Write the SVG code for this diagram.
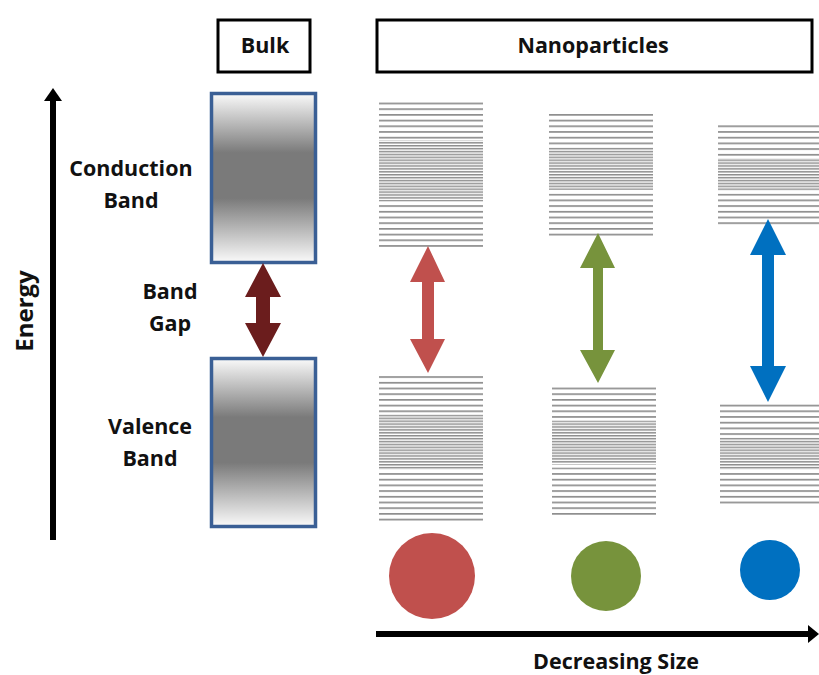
<svg xmlns="http://www.w3.org/2000/svg" width="819" height="675" viewBox="0 0 819 675">
<style>
.t{font-family:"Open Sans","Liberation Sans",sans-serif;font-weight:bold;font-size:21.5px;fill:#111;text-anchor:middle}
.box{fill:#fff;stroke:#000;stroke-width:3}
.band{stroke:#3a5f95;stroke-width:3.5;fill:url(#g)}
</style>
<defs>
<linearGradient id="g" x1="0" y1="0" x2="0" y2="1">
<stop offset="0" stop-color="#fafafa"/>
<stop offset="0.35" stop-color="#7a7a7a"/>
<stop offset="0.62" stop-color="#7a7a7a"/>
<stop offset="1" stop-color="#fafafa"/>
</linearGradient>
<pattern id="sp" width="10" height="5.7" patternUnits="userSpaceOnUse"><rect width="10" height="1.7" fill="#8e8e8e"/></pattern>
<pattern id="dp" width="10" height="2.9" patternUnits="userSpaceOnUse"><rect width="10" height="1.5" fill="#8e8e8e"/></pattern>
</defs>

<g id="bulk-title"><rect class="box" x="218" y="20" width="92" height="52"/><text class="t" x="265" y="53">Bulk</text></g>
<g id="nano-title"><rect class="box" x="377" y="20" width="435" height="52"/><text class="t" x="593" y="53">Nanoparticles</text></g>

<g id="energy-axis">
<line x1="53" y1="540" x2="53" y2="100" stroke="#000" stroke-width="6"/>
<polygon points="44,101 53,88 62,101" fill="#000"/>
<text class="t" style="font-size:24px" transform="translate(33,311) rotate(-90)">Energy</text>
</g>

<g id="labels">
<text class="t" x="131" y="176">Conduction</text>
<text class="t" x="131" y="208">Band</text>
<text class="t" x="170" y="299">Band</text>
<text class="t" x="170" y="331">Gap</text>
<text class="t" x="150" y="434">Valence</text>
<text class="t" x="150" y="466">Band</text>
</g>

<g id="bulk-cb"><rect class="band" x="211.5" y="93.5" width="104" height="169"/></g>
<g id="bulk-vb"><rect class="band" x="211.5" y="358.5" width="104" height="168"/></g>

<g id="np1-cb">
<rect x="379" y="100.5" width="104" height="40" fill="url(#sp)"/>
<rect x="379" y="140.5" width="104" height="61" fill="url(#dp)"/>
<rect x="379" y="205" width="104" height="43" fill="url(#sp)"/>
</g>
<g id="np1-vb">
<rect x="379" y="374.5" width="104" height="40" fill="url(#sp)"/>
<rect x="379" y="414.5" width="104" height="55" fill="url(#dp)"/>
<rect x="379" y="472.5" width="104" height="50" fill="url(#sp)"/>
</g>
<g id="np2-cb">
<rect x="549" y="112.5" width="104" height="34" fill="url(#sp)"/>
<rect x="549" y="147" width="104" height="43" fill="url(#dp)"/>
<rect x="549" y="193.5" width="104" height="44" fill="url(#sp)"/>
</g>
<g id="np2-vb">
<rect x="552" y="385.5" width="104" height="34" fill="url(#sp)"/>
<rect x="552" y="420.5" width="104" height="44" fill="url(#dp)"/>
<rect x="552" y="467.5" width="104" height="49" fill="url(#sp)"/>
</g>
<g id="np3-cb">
<rect x="718" y="123.5" width="101" height="34" fill="url(#sp)"/>
<rect x="718" y="158.5" width="101" height="32" fill="url(#dp)"/>
<rect x="718" y="193.5" width="101" height="32" fill="url(#sp)"/>
</g>
<g id="np3-vb">
<rect x="720" y="403.5" width="99" height="34" fill="url(#sp)"/>
<rect x="720" y="437.5" width="99" height="32" fill="url(#dp)"/>
<rect x="720" y="472.5" width="99" height="32" fill="url(#sp)"/>
</g>

<g id="connectors">
<polygon id="gap-bulk" fill="#6b1d1d" points="263,263 281,297 270,297 270,323 281,323 263,357 245,323 256,323 256,297 245,297"/>
<polygon id="gap-1" fill="#c0504d" points="428,246 445,282 434,282 434,339 445,339 428,373 410,339 422,339 422,282 410,282"/>
<polygon id="gap-2" fill="#77933c" points="598,233 615,268 603,268 603,350 615,350 598,383 580,350 593,350 593,268 580,268"/>
<polygon id="gap-3" fill="#0070c0" points="768,219 786,255 774,255 774,366 786,366 768,402 750,366 762,366 762,255 750,255"/>
<line x1="376" y1="634" x2="810" y2="634" stroke="#000" stroke-width="6"/>
<polygon points="808,625 819,634 808,643" fill="#000"/>
</g>

<g id="particles">
<circle cx="432" cy="576" r="43" fill="#c0504d"/>
<circle cx="606" cy="576" r="35" fill="#77933c"/>
<circle cx="770" cy="570" r="30" fill="#0070c0"/>
</g>

<text class="t" x="616" y="669">Decreasing Size</text>
</svg>
